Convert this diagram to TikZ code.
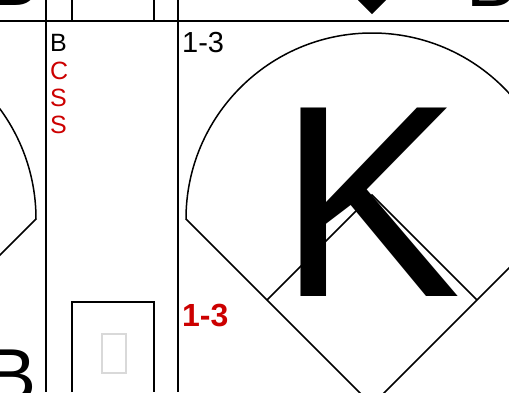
\documentclass[tikz,border=0pt]{standalone}
\usepackage{fontspec}
\setmainfont{Liberation Sans}
\usepackage{xcolor}
\definecolor{scred}{RGB}{204,0,0}

\begin{document}
\begin{tikzpicture}[x=1pt,y=-1pt,inner sep=0pt]
  \useasboundingbox (0,0) rectangle (509,392); \clip (0,0) rectangle (509,392);
  \draw[line width=1.8pt] (0,21) -- (509,21); \draw[line width=1.6pt] (46,0) -- (46,392); \draw[line width=1.6pt] (178,0) -- (178,392);
  \draw[line width=1.4pt] (72,0) -- (72,21) (154,0) -- (154,21); \draw[line width=1.4pt] (72,392) -- (72,302) -- (154,302) -- (154,392);
  \draw[black!15,line width=1.2pt] (102,334) rectangle (126,373);
  \foreach \cx in {-150,372}{
    \draw[line width=1.5pt] (\cx-186,219) arc[start angle=180,end angle=360,radius=186] -- (\cx,405) -- cycle;
    \draw[line width=1.5pt] (\cx-105,300) -- (\cx,195) -- (\cx+105,300);}
  \fill (372,-14) -- (386,0) -- (372,14) -- (358,0) -- cycle;
  \node[anchor=base west] (bA) at (466.5,6) {\fontsize{75}{75}\selectfont B}; \node[anchor=base west] (bB) at (-11.5,5) {\fontsize{75}{75}\selectfont B};
  \node[anchor=base west] (bC) at (-14,401.7) {\fontsize{75}{75}\selectfont B};
  \node[anchor=base west] (pb) at (50,51) {\fontsize{25}{25}\selectfont B}; \node[anchor=base west,scred] (pc) at (50,79) {\fontsize{25}{25}\selectfont C};
  \node[anchor=base west,scred] (ps1) at (50,106) {\fontsize{25}{25}\selectfont S}; \node[anchor=base west,scred] (ps2) at (50,133) {\fontsize{25}{25}\selectfont S};
  \node[anchor=base west] (count) at (182,52) {\fontsize{29}{29}\selectfont 1-3};
  \node[anchor=base west,scred] (final) at (182,326) {\fontsize{32}{32}\selectfont\bfseries 1-3};
  \node[anchor=base west] (kay) at (278,296) {\fontsize{274}{274}\selectfont K};
\end{tikzpicture}
\end{document}
